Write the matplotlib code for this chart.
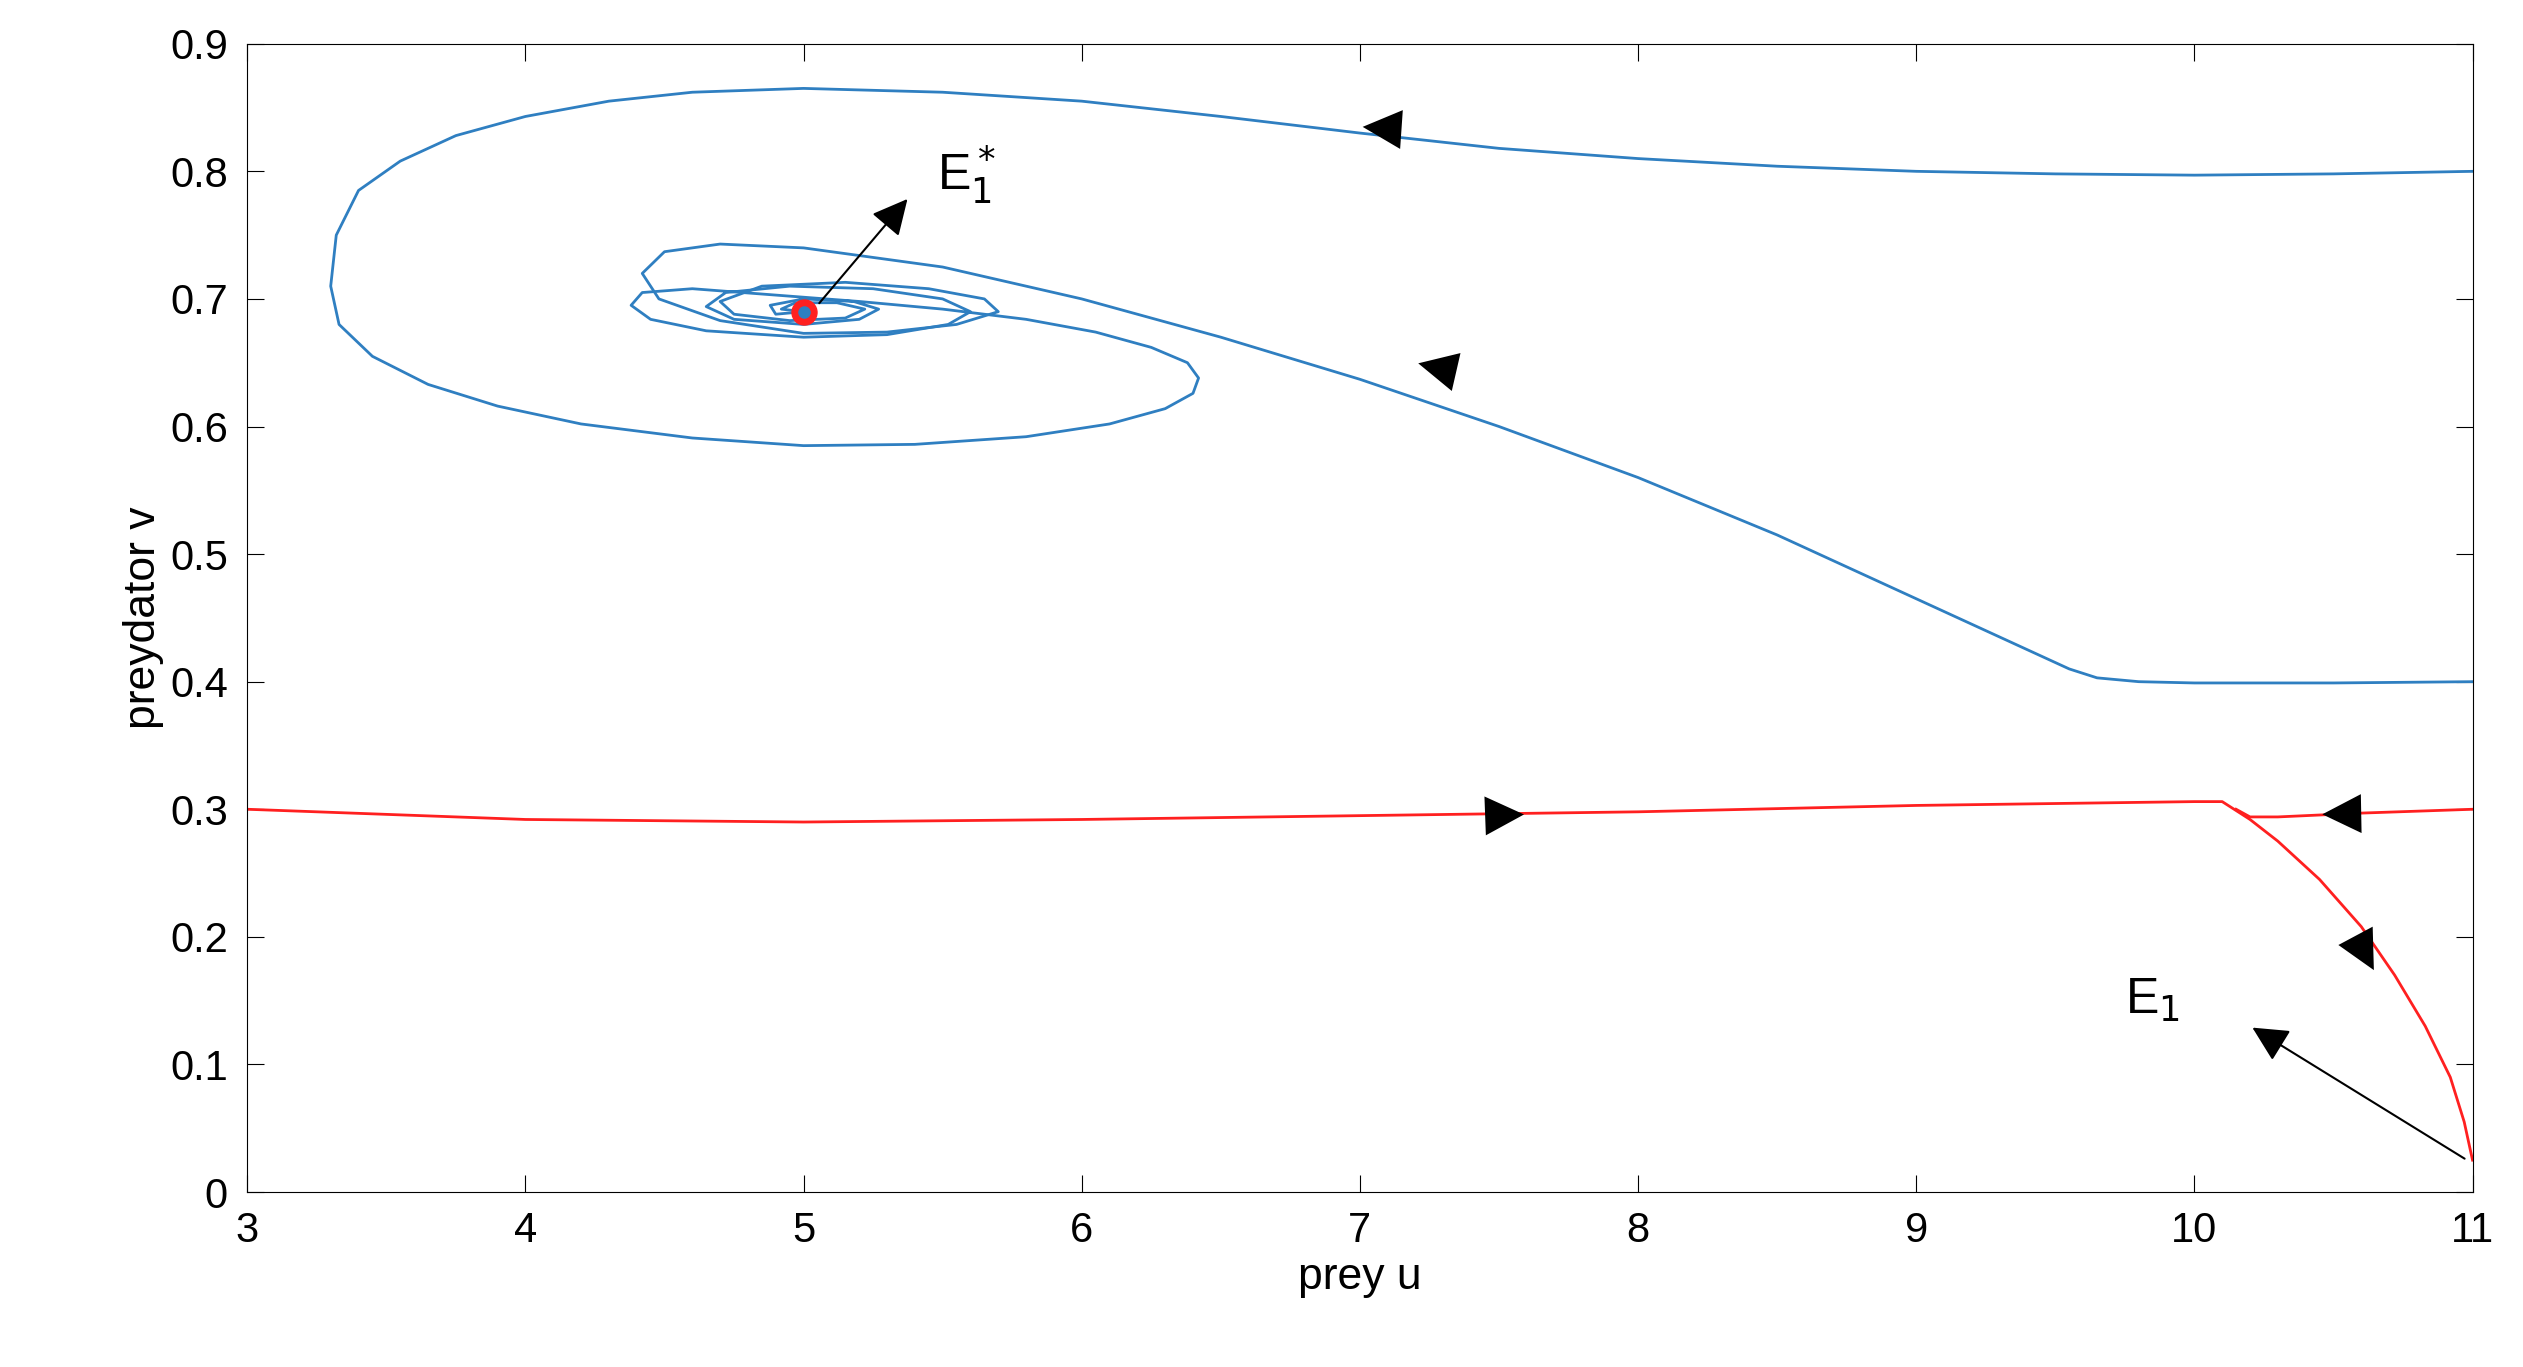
import matplotlib.pyplot as plt

plt.rcParams['font.family'] = ['Liberation Sans', 'DejaVu Sans']

# trajectories (prey u, predator v)
outer_u = [11, 10.5, 10, 9.5, 9, 8.5, 8, 7.5, 7, 6.5, 6, 5.5, 5, 4.6, 4.3, 4.0, 3.75, 3.55, 3.4, 3.32, 3.3, 3.33, 3.45, 3.65, 3.9, 4.2, 4.6, 5, 5.4, 5.8, 6.1, 6.3, 6.4, 6.42, 6.38, 6.25, 6.05, 5.8, 5.5, 5.2, 4.9, 4.6, 4.42, 4.38, 4.45, 4.65, 5, 5.3, 5.52, 5.6, 5.5, 5.25, 4.95, 4.72, 4.65, 4.75, 5.0, 5.2, 5.27, 5.18, 5.0, 4.88, 4.9, 5.0]
outer_v = [0.80, 0.798, 0.797, 0.798, 0.80, 0.804, 0.81, 0.818, 0.83, 0.843, 0.855, 0.862, 0.865, 0.862, 0.855, 0.843, 0.828, 0.808, 0.785, 0.75, 0.71, 0.68, 0.655, 0.633, 0.616, 0.602, 0.591, 0.585, 0.586, 0.592, 0.602, 0.614, 0.626, 0.638, 0.65, 0.662, 0.674, 0.684, 0.692, 0.698, 0.703, 0.708, 0.705, 0.695, 0.684, 0.675, 0.67, 0.672, 0.68, 0.69, 0.70, 0.708, 0.71, 0.705, 0.694, 0.684, 0.68, 0.684, 0.692, 0.698, 0.70, 0.695, 0.688, 0.69]
inner_u = [11, 10.5, 10, 9.8, 9.65, 9.55, 9.45, 9.3, 9, 8.5, 8, 7.5, 7, 6.5, 6, 5.5, 5, 4.7, 4.5, 4.42, 4.48, 4.7, 5, 5.3, 5.55, 5.7, 5.65, 5.45, 5.15, 4.85, 4.7, 4.75, 4.95, 5.15, 5.22, 5.12, 4.97, 4.92, 5.0]
inner_v = [0.40, 0.399, 0.399, 0.40, 0.403, 0.41, 0.42, 0.435, 0.465, 0.515, 0.56, 0.60, 0.637, 0.67, 0.70, 0.725, 0.74, 0.743, 0.737, 0.72, 0.70, 0.683, 0.673, 0.674, 0.68, 0.69, 0.70, 0.708, 0.713, 0.71, 0.698, 0.688, 0.683, 0.685, 0.692, 0.697, 0.697, 0.692, 0.69]
red_left_u = [3, 4, 5, 6, 7, 8, 9, 10, 10.1, 10.2, 10.3, 10.45, 10.6, 10.72, 10.83, 10.92, 10.97, 11]
red_left_v = [0.30, 0.292, 0.29, 0.292, 0.295, 0.298, 0.303, 0.306, 0.306, 0.292, 0.275, 0.245, 0.208, 0.17, 0.13, 0.09, 0.055, 0.025]
red_right_u = [11, 10.6, 10.3, 10.2, 10.15]
red_right_v = [0.30, 0.297, 0.294, 0.294, 0.30]

# direction arrows: (tail, head)
dir_arrows = [((7.2, 0.832), (7.0, 0.835)),
              ((7.5, 0.635), (7.2, 0.65)),
              ((7.35, 0.294), (7.6, 0.296)),
              ((10.7, 0.297), (10.45, 0.296)),
              ((10.52, 0.225), (10.65, 0.172))]

blue = '#2f7fc1'
red = '#ff2020'

fig = plt.figure(figsize=(25.23, 13.67), dpi=100)
ax = fig.add_axes([0.098, 0.128, 0.882, 0.84])
ax.plot(outer_u, outer_v, color=blue, lw=2)
ax.plot(inner_u, inner_v, color=blue, lw=2)
ax.plot(red_left_u, red_left_v, color=red, lw=2)
ax.plot(red_right_u, red_right_v, color=red, lw=2)

for tail, head in dir_arrows:
    ax.annotate('', xy=head, xytext=tail,
                arrowprops=dict(arrowstyle='-|>', mutation_scale=70, color='k', lw=0))

ax.plot([5], [0.69], 'o', color=red, ms=18)
ax.plot([5], [0.69], 'o', color=blue, ms=8)

ax.annotate('', xy=(5.38, 0.78), xytext=(5.05, 0.695),
            arrowprops=dict(arrowstyle='-|>', mutation_scale=55, color='k', lw=1.5))
ax.text(5.48, 0.785, r'E$_1^*$', fontsize=36)
ax.annotate('', xy=(10.2, 0.13), xytext=(10.98, 0.025),
            arrowprops=dict(arrowstyle='-|>', mutation_scale=55, color='k', lw=1.5))
ax.text(9.75, 0.14, r'E$_1$', fontsize=36)

ax.set_xlim(3, 11)
ax.set_ylim(0, 0.9)
ax.set_xticks(range(3, 12))
ax.set_yticks([i / 10 for i in range(10)])
ax.set_yticklabels(['0', '0.1', '0.2', '0.3', '0.4', '0.5', '0.6', '0.7', '0.8', '0.9'])
ax.tick_params(labelsize=30, direction='in', length=12, top=True, right=True, pad=14)
ax.set_xlabel('prey u', fontsize=32)
ax.set_ylabel('preydator v', fontsize=32)
fig.savefig('out.png')
